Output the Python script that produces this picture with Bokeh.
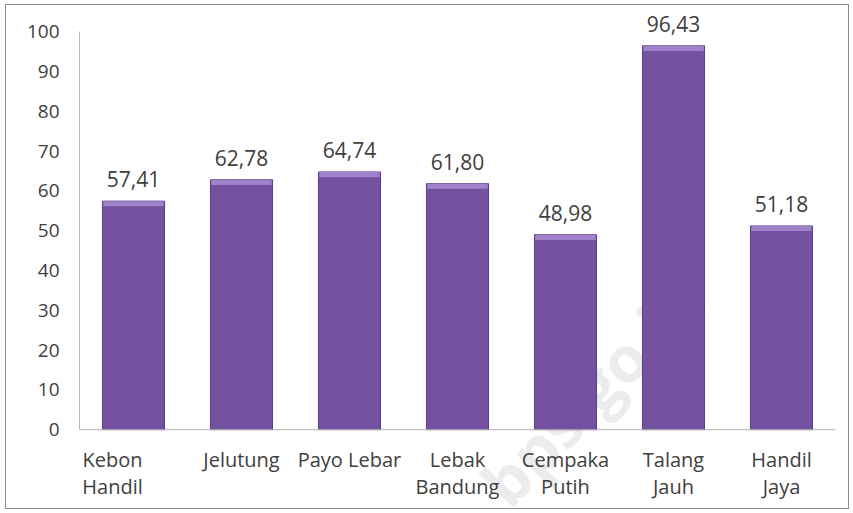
from bokeh.plotting import figure
from bokeh.models import FixedTicker, Span, Label, Range1d
from bokeh.core.properties import value
from bokeh.embed import file_html
from bokeh.resources import INLINE

categories = ["Kebon Handil", "Jelutung", "Payo Lebar", "Lebak Bandung",
              "Cempaka Putih", "Talang Jauh", "Handil Jaya"]
axis_labels = ["Kebon\nHandil", "Jelutung", "Payo Lebar", "Lebak\nBandung",
               "Cempaka\nPutih", "Talang\nJauh", "Handil\nJaya"]
values = [57.41, 62.78, 64.74, 61.80, 48.98, 96.43, 51.18]
value_labels = ["57,41", "62,78", "64,74", "61,80", "48,98", "96,43", "51,18"]
y_ticks = [0, 10, 20, 30, 40, 50, 60, 70, 80, 90, 100]

FONT = "Open Sans"
TXT = "#404040"

p = figure(x_range=categories, y_range=Range1d(-19.3, 104.8),
           width=844, height=505, output_backend="svg", toolbar_location=None,
           min_border_left=73, min_border_right=15, min_border_top=7,
           min_border_bottom=4)
p.styles = {"border": "1px solid #8c8c8c", "box-sizing": "border-box",
            "margin-left": "5px", "margin-top": "4px"}
p.outline_line_color = None
p.xgrid.visible = False
p.ygrid.visible = False
p.xaxis.visible = False

ax = p.yaxis[0]
ax.bounds = (0, 100)
ax.ticker = FixedTicker(ticks=y_ticks)
ax.major_tick_in = 0
ax.major_tick_out = 0
ax.minor_tick_in = 0
ax.minor_tick_out = 0
ax.axis_line_color = "#b5b5b5"
ax.major_label_text_font = FONT
ax.major_label_text_font_size = "19px"
ax.major_label_text_color = TXT
ax.major_label_standoff = 20

# watermark
p.add_layout(Label(x=4.74, y=9.6, text="bps.go.id", angle=46, angle_units="deg",
                   text_font=FONT, text_font_size="64px", text_font_style="bold",
                   text_color="#ececec", text_align="center",
                   text_baseline="middle", level="underlay"))

p.add_layout(Span(location=0, dimension="width", line_color="#b5b5b5",
                  line_width=1))

bevel_bottom = [v - 1.3 for v in values]
p.vbar(x=categories, top=values, bottom=0, width=0.575,
       fill_color="#7351a0", line_color="#5b3c86", line_width=1)
p.vbar(x=categories, top=values, bottom=bevel_bottom, width=0.56,
       fill_color="#9f82ca", line_color=None)

p.text(x=categories, y=values, text=value_labels, text_align="center",
       text_baseline="alphabetic", y_offset=-22, text_font=value(FONT),
       text_font_size="21px", text_color=TXT)

p.text(x=categories[:1], y=0, text=axis_labels[:1], text_align="center",
       text_baseline="top", x_offset=-21, y_offset=16, text_font=value(FONT),
       text_font_size="20px", text_color=TXT, text_line_height=1.03)
p.text(x=categories[1:], y=0, text=axis_labels[1:], text_align="center",
       text_baseline="top", y_offset=16, text_font=value(FONT),
       text_font_size="20px", text_color=TXT, text_line_height=1.03)

open("out.html", "w").write(file_html(p, INLINE))
